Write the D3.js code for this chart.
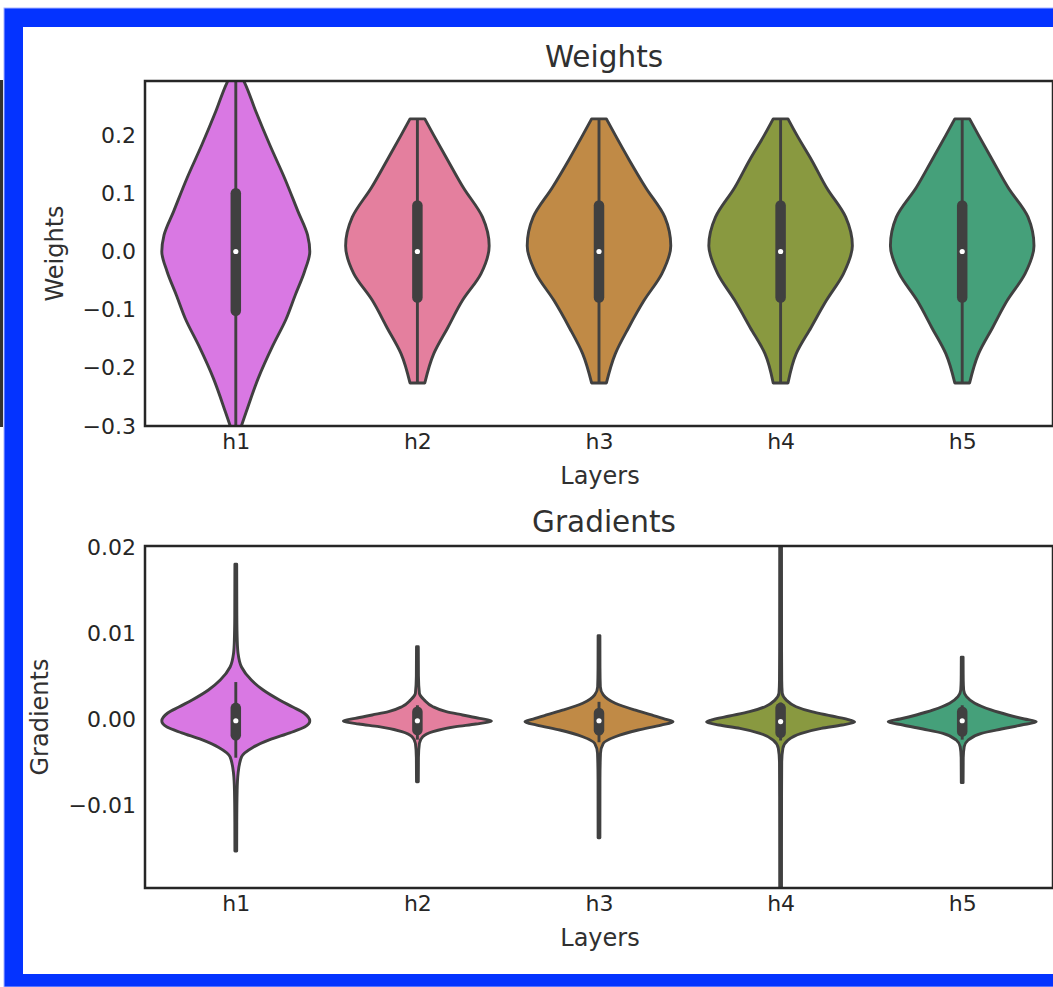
<!DOCTYPE html>
<html>
<head>
<meta charset="utf-8">
<script src="https://cdn.jsdelivr.net/npm/d3@7"></script>
<style>
  body { margin: 0; background: #fff; }
  text { font-family: "DejaVu Sans", sans-serif; fill: #262626; }
</style>
</head>
<body>
<script>
var width = 1053,
    height = 987;

// layer names + fill colours
var layers = ["h1", "h2", "h3", "h4", "h5"];
var colors = ["#d978e3", "#e47f9e", "#c08a46", "#899940", "#45a07a"];

var weightTicks = [-0.3, -0.2, -0.1, 0.0, 0.1, 0.2];
var gradTicks = [-0.01, 0.00, 0.01, 0.02];

// weights: [value, relative density]
var weightsH1 = [[0.31,0.04],[0.290,0.12],[0.241,0.27],[0.183,0.46],[0.126,0.66],[0.069,0.84],[0.028,0.97],[0,1],[-0.034,0.93],[-0.076,0.80],[-0.116,0.68],[-0.162,0.50],[-0.219,0.30],[-0.276,0.14],[-0.302,0.07],[-0.32,0.02]];
var weightsH2 = [[0.228,0.10],[0.200,0.22],[0.157,0.41],[0.110,0.62],[0.059,0.88],[0.010,0.97],[-0.038,0.86],[-0.084,0.61],[-0.131,0.41],[-0.176,0.22],[-0.226,0.10]];
var weightsH3 = [[0.228,0.10],[0.200,0.22],[0.157,0.41],[0.110,0.63],[0.059,0.89],[0.010,0.97],[-0.038,0.85],[-0.084,0.61],[-0.131,0.40],[-0.176,0.22],[-0.226,0.10]];
var weightsH4 = [[0.228,0.10],[0.200,0.22],[0.157,0.42],[0.110,0.62],[0.059,0.88],[0.010,0.97],[-0.038,0.85],[-0.084,0.62],[-0.131,0.41],[-0.176,0.21],[-0.226,0.10]];
var weightsH5 = [[0.228,0.10],[0.200,0.22],[0.157,0.41],[0.110,0.62],[0.059,0.89],[0.010,0.97],[-0.038,0.85],[-0.084,0.61],[-0.131,0.41],[-0.176,0.22],[-0.226,0.10]];

var weightQ1 = [-0.102, -0.079, -0.079, -0.079, -0.079];
var weightQ3 = [0.100, 0.079, 0.079, 0.079, 0.079];
var weightMed = [0, 0, 0, 0, 0];
var weightLo = [-0.32, -0.226, -0.226, -0.226, -0.226];
var weightHi = [0.31, 0.228, 0.228, 0.228, 0.228];

// gradients: [value, relative density]
var gradsH1 = [[0.0180,0.012],[0.0120,0.014],[0.0090,0.02],[0.00767,0.03],[0.00605,0.077],[0.00453,0.21],[0.00337,0.37],[0.00221,0.59],[0.0014,0.77],[0.0007,0.92],[-0.00023,1],[-0.00093,0.93],[-0.0016,0.73],[-0.0024,0.46],[-0.0033,0.23],[-0.0044,0.077],[-0.0063,0.031],[-0.0083,0.018],[-0.0120,0.013],[-0.01535,0.012]];
var gradsH2 = [[0.0084,0.012],[0.0050,0.014],[0.0030,0.027],[0.0022,0.095],[0.00143,0.21],[0.00085,0.39],[0.00047,0.61],[0.00008,0.84],[-0.00023,1],[-0.00058,0.79],[-0.00089,0.52],[-0.00147,0.21],[-0.00206,0.072],[-0.00283,0.027],[-0.0045,0.014],[-0.0073,0.012]];
var gradsH3 = [[0.0097,0.012],[0.0060,0.013],[0.00376,0.018],[0.0028,0.058],[0.00183,0.22],[0.00105,0.48],[0.00047,0.71],[0,0.89],[-0.00031,1],[-0.0007,0.84],[-0.00128,0.53],[-0.00206,0.22],[-0.00283,0.058],[-0.004,0.02],[-0.007,0.013],[-0.0138,0.012]];
var gradsH4 = [[0.0210,0.012],[0.0080,0.013],[0.0045,0.015],[0.003,0.022],[0.0022,0.077],[0.00143,0.21],[0.00085,0.42],[0.00035,0.69],[-0.00012,0.94],[-0.00035,1],[-0.0007,0.83],[-0.00108,0.55],[-0.00166,0.28],[-0.00244,0.10],[-0.0034,0.031],[-0.005,0.015],[-0.0090,0.013],[-0.0210,0.012]];
var gradsH5 = [[0.0072,0.012],[0.0045,0.014],[0.00337,0.02],[0.0026,0.058],[0.00183,0.17],[0.00105,0.39],[0.00047,0.62],[0,0.84],[-0.00031,1],[-0.0007,0.80],[-0.00116,0.53],[-0.00166,0.26],[-0.00244,0.081],[-0.00322,0.027],[-0.0045,0.014],[-0.0074,0.012]];

var gradQ1 = [-0.0019, -0.00128, -0.0013, -0.0016, -0.00147];
var gradQ3 = [0.0013, 0.00085, 0.0007, 0.0013, 0.00085];
var gradMed = [-0.0002, -0.0002, -0.0002, -0.0003, -0.0002];
var gradLo = [-0.0045, -0.0024, -0.0027, -0.0025, -0.0024];
var gradHi = [0.0043, 0.0016, 0.002, 0.0019, 0.0016];

var svg = d3.select("body").append("svg")
    .attr("width", width)
    .attr("height", height);

// screenshot frame
svg.append("rect").attr("x", 0).attr("y", 80).attr("width", 3).attr("height", 347).attr("fill", "#333");
svg.append("rect").attr("x", 4).attr("y", 8).attr("width", 1100).attr("height", 979)
    .attr("fill", "#0433ff").attr("stroke", "#a9b6ff").attr("stroke-width", 1);
svg.append("rect").attr("x", 23).attr("y", 27).attr("width", 1100).attr("height", 947).attr("fill", "#fff");

var x = d3.scalePoint().domain(layers).range([145, 1053]).padding(0.5);
var halfW = d3.scaleLinear().domain([0, 1]).range([0, 74]);

function panel(opts) {
  var y = d3.scaleLinear().domain(opts.domain).range([opts.bottom, opts.top]);
  var g = svg.append("g");

  var clipId = "clip-" + opts.name;
  svg.append("clipPath").attr("id", clipId)
    .append("rect").attr("x", 145).attr("y", opts.top)
    .attr("width", 908).attr("height", opts.bottom - opts.top);

  var plot = g.append("g").attr("clip-path", "url(#" + clipId + ")");

  layers.forEach(function(name, i) {
    var cx = x(name);
    var area = d3.area()
        .y(function(d) { return y(d[0]); })
        .x0(function(d) { return cx - halfW(d[1]); })
        .x1(function(d) { return cx + halfW(d[1]); })
        .curve(d3.curveMonotoneY);

    plot.append("path")
      .attr("d", area(opts.dens[i]))
      .attr("fill", colors[i])
      .attr("stroke", "#404040")
      .attr("stroke-width", 2.9)
      .attr("stroke-linejoin", "round");

    // whisker
    plot.append("line")
      .attr("x1", cx).attr("x2", cx)
      .attr("y1", y(opts.hi[i])).attr("y2", y(opts.lo[i]))
      .attr("stroke", "#404040").attr("stroke-width", 2.9);
    // box
    plot.append("line")
      .attr("x1", cx).attr("x2", cx)
      .attr("y1", y(opts.q3[i])).attr("y2", y(opts.q1[i]))
      .attr("stroke", "#404040").attr("stroke-width", 10.5)
      .attr("stroke-linecap", "round");
    // median
    plot.append("circle")
      .attr("cx", cx).attr("cy", y(opts.med[i])).attr("r", 2.6)
      .attr("fill", "#fff");
  });

  // frame
  g.append("rect")
    .attr("x", 145).attr("y", opts.top)
    .attr("width", 908).attr("height", opts.bottom - opts.top)
    .attr("fill", "none").attr("stroke", "#262626").attr("stroke-width", 2.5);

  var yAxis = g.append("g")
    .attr("transform", "translate(145,0)")
    .call(d3.axisLeft(y).tickValues(opts.ticks).tickFormat(d3.format(opts.fmt)).tickSize(0).tickPadding(9));
  yAxis.select(".domain").remove();
  yAxis.selectAll("text").style("font-size", "22px").style("font-family", "DejaVu Sans").attr("fill", "#303030");

  var xAxis = g.append("g")
    .attr("transform", "translate(0," + opts.bottom + ")")
    .call(d3.axisBottom(x).tickSize(0).tickPadding(7));
  xAxis.select(".domain").remove();
  xAxis.selectAll("text").style("font-size", "22px").style("font-family", "DejaVu Sans").attr("fill", "#303030");

  g.append("text")
    .attr("x", 604).attr("y", opts.top - 14)
    .attr("text-anchor", "middle")
    .style("font-size", "29.5px")
    .style("fill", "#303030")
    .text(opts.title);

  g.append("text")
    .attr("x", 600).attr("y", opts.bottom + 58)
    .attr("text-anchor", "middle")
    .style("font-size", "24px")
    .style("fill", "#303030")
    .text("Layers");

  g.append("text")
    .attr("transform", "translate(" + opts.labelX + "," + (opts.top + opts.bottom) / 2 + ")rotate(-90)")
    .attr("text-anchor", "middle")
    .style("font-size", "24px")
    .style("fill", "#303030")
    .text(opts.title);
}

panel({
  name: "weights", title: "Weights",
  top: 81, bottom: 426, domain: [-0.3, 0.2931],
  ticks: weightTicks, fmt: ".1f", labelX: 63,
  dens: [weightsH1, weightsH2, weightsH3, weightsH4, weightsH5],
  q1: weightQ1, q3: weightQ3, med: weightMed, lo: weightLo, hi: weightHi
});

panel({
  name: "grads", title: "Gradients",
  top: 546, bottom: 888, domain: [-0.01965, 0.02012],
  ticks: gradTicks, fmt: ".2f", labelX: 48,
  dens: [gradsH1, gradsH2, gradsH3, gradsH4, gradsH5],
  q1: gradQ1, q3: gradQ3, med: gradMed, lo: gradLo, hi: gradHi
});
</script>
</body>
</html>
